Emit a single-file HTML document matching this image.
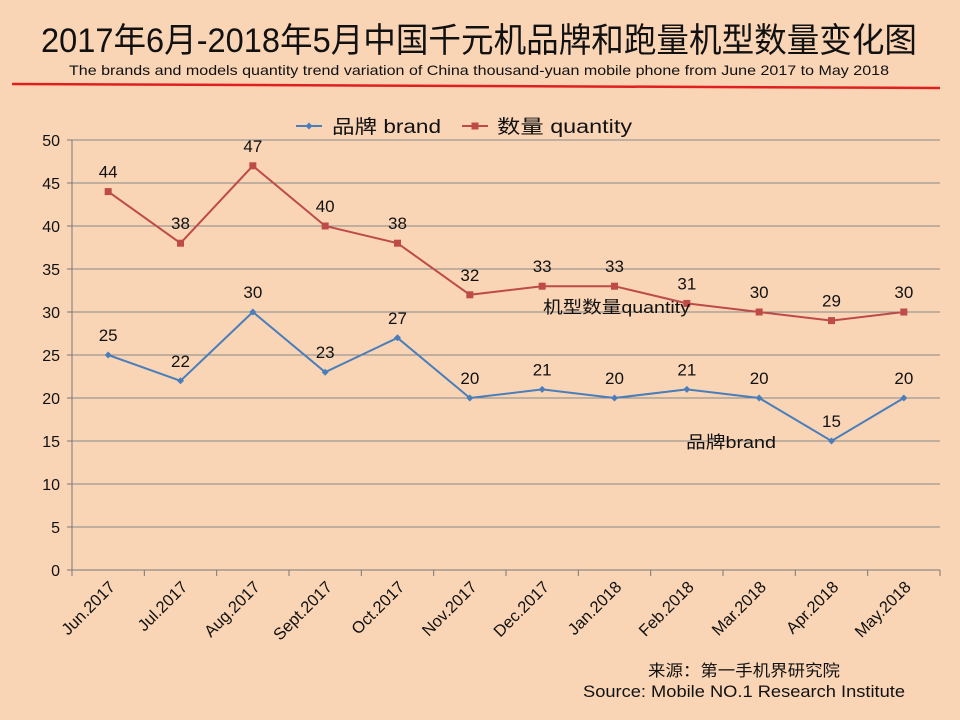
<!DOCTYPE html>
<html><head><meta charset="utf-8"><style>
body{margin:0;background:#fad5b5;}
svg{display:block;font-family:"Liberation Sans","Noto Sans CJK SC",sans-serif;}
</style></head><body>
<svg id="c" width="960" height="720" viewBox="0 0 960 720">
<rect width="960" height="720" fill="#fad5b5"/>
<text x="479" y="52" text-anchor="middle" font-size="34" textLength="876" lengthAdjust="spacingAndGlyphs" fill="#111">2017年6月-2018年5月中国千元机品牌和跑量机型数量变化图</text>
<text x="479" y="75" text-anchor="middle" font-size="14" textLength="820" lengthAdjust="spacingAndGlyphs" fill="#111">The brands and models quantity trend variation of China thousand-yuan mobile phone from  June 2017 to May 2018</text>
<line x1="12" y1="84" x2="940" y2="88" stroke="#e02020" stroke-width="2.5"/>
<g>
<g><line x1="296" y1="126" x2="322" y2="126" stroke="#4a7ebb" stroke-width="2"/><path d="M309 122.5 L312.5 126 L309 129.5 L305.5 126 Z" fill="#4a7ebb"/><text x="332" y="133" font-size="19" fill="#111" textLength="109" lengthAdjust="spacingAndGlyphs">品牌 brand</text></g>
<g><line x1="462" y1="126" x2="488" y2="126" stroke="#be4b48" stroke-width="2"/><rect x="471.5" y="122.5" width="7" height="7" fill="#be4b48"/><text x="497" y="133" font-size="19" fill="#111" textLength="135" lengthAdjust="spacingAndGlyphs">数量 quantity</text></g>
</g>
<g id="grid"></g>
<g id="axes"></g>
<g id="series"></g>
<text x="543" y="313" font-size="17" fill="#111" textLength="147" lengthAdjust="spacingAndGlyphs">机型数量quantity</text>
<text x="686" y="448" font-size="17" fill="#111" textLength="90" lengthAdjust="spacingAndGlyphs">品牌brand</text>
<text x="648" y="676" font-size="16" fill="#111" textLength="192" lengthAdjust="spacingAndGlyphs">来源：第一手机界研究院</text>
<text x="583" y="697" font-size="17" fill="#111" textLength="322" lengthAdjust="spacingAndGlyphs">Source: Mobile NO.1 Research Institute</text>
</svg>
<script>
const categories=["Jun.2017","Jul.2017","Aug.2017","Sept.2017","Oct.2017","Nov.2017","Dec.2017","Jan.2018","Feb.2018","Mar.2018","Apr.2018","May.2018"];
const brandValues=[25,22,30,23,27,20,21,20,21,20,15,20];
const quantityValues=[44,38,47,40,38,32,33,33,31,30,29,30];
const yTicks=[0,5,10,15,20,25,30,35,40,45,50];
const NS="http://www.w3.org/2000/svg";
const L=72,R=940,T=140,B=570,YMAX=50;
const bw=(R-L)/categories.length;
const xs=i=>L+bw*(i+0.5);
const ys=v=>B-(v/YMAX)*(B-T);
function mk(tag,attrs,parent){const e=document.createElementNS(NS,tag);for(const k in attrs)e.setAttribute(k,attrs[k]);parent.appendChild(e);return e;}
const grid=document.getElementById('grid'),axes=document.getElementById('axes'),series=document.getElementById('series');
yTicks.forEach(t=>{
 if(t>0){const g=mk('line',{x1:L,x2:R,y1:ys(t),y2:ys(t),stroke:'#878787','stroke-width':1},grid);
 
 }
 const tk=mk('line',{x1:L-5,x2:L,y1:ys(t),y2:ys(t),stroke:'#777'},axes);
 
 
 const lb=mk('text',{x:L-12,y:ys(t)+6,'text-anchor':'end','font-size':16,fill:'#111'},axes);
 lb.textContent=t;
 
 
});
const ya=mk('line',{x1:L,x2:L,y1:T,y2:B,stroke:'#777'},axes);


const xa=mk('line',{x1:L,x2:R,y1:B,y2:B,stroke:'#777'},axes);


for(let i=0;i<=categories.length;i++){
 const tk=mk('line',{x1:L+bw*i,x2:L+bw*i,y1:B,y2:B+6,stroke:'#777'},axes);
 
 
}
categories.forEach((c,i)=>{
 const x=xs(i)+8,y=B+18;
 const lb=mk('text',{x:x,y:y,'text-anchor':'end','font-size':16.5,fill:'#111',transform:`rotate(-45 ${x} ${y})`},axes);
 lb.textContent=c;
 
 
});
function drawSeries(vals,color,name,square){
 const pts=vals.map((v,i)=>xs(i)+','+ys(v)).join(' ');
 const pl=mk('polyline',{points:pts,fill:'none',stroke:color,'stroke-width':2},series);
 
 
 vals.forEach((v,i)=>{
  const x=xs(i),y=ys(v);
  let m;
  if(square)m=mk('rect',{x:x-3.5,y:y-3.5,width:7,height:7,fill:color},series);
  else m=mk('path',{d:`M${x} ${y-3.5} L${x+3.5} ${y} L${x} ${y+3.5} L${x-3.5} ${y} Z`,fill:color},series);
  
  
  const t=mk('text',{x:x,y:y-14,'text-anchor':'middle','font-size':17,fill:'#111'},series);
  t.textContent=v;
  
  
 });
}
drawSeries(brandValues,'#4a7ebb','brand',false);
drawSeries(quantityValues,'#be4b48','quantity',true);
</script>
</body></html>
